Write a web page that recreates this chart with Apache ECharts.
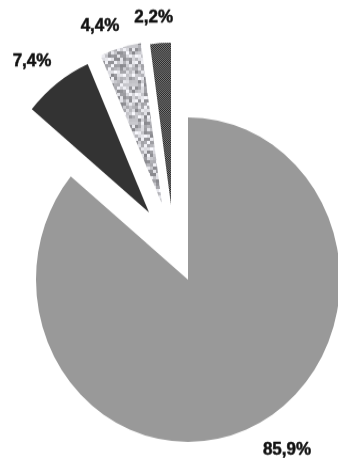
<!DOCTYPE html>
<html>
<head>
<meta charset="utf-8">
<script src="https://cdn.jsdelivr.net/npm/echarts@6/dist/echarts.min.js"></script>
<style>
html,body{margin:0;padding:0;background:#fff;overflow:hidden;}
#wrap{width:338px;height:459px;overflow:hidden;}
#chart{width:338px;height:440px;transform:scaleY(1.0674);transform-origin:0 0;}
</style>
</head>
<body>
<div id="wrap"><div id="chart"></div></div>
<script>
const categories = ['Categoria 1', 'Categoria 2', 'Categoria 3', 'Categoria 4'];
const values = [85.9, 7.4, 4.4, 2.2];

function hash(x, y) {
  const s = Math.sin(x * 12.9898 + y * 78.233) * 43758.5453;
  return s - Math.floor(s);
}
function speckle() {
  const c = document.createElement('canvas');
  c.width = 36; c.height = 36;
  const g = c.getContext('2d');
  for (let y = 0; y < 36; y += 3) {
    for (let x = 0; x < 36; x += 3) {
      const h = hash(x / 3, y / 3);
      const v = Math.round(135 + h * 115);
      g.fillStyle = 'rgb(' + v + ',' + v + ',' + Math.min(255, v + 5) + ')';
      g.fillRect(x, y, 3, 3);
    }
  }
  return c;
}
function hatch() {
  const c = document.createElement('canvas');
  c.width = 4; c.height = 4;
  const g = c.getContext('2d');
  g.fillStyle = '#7a7a7a';
  g.fillRect(0, 0, 4, 4);
  g.fillStyle = '#2a2a2a';
  for (let i = 0; i < 4; i++) { g.fillRect(i, 3 - i, 1, 1); g.fillRect((i + 2) % 4, 3 - i, 1, 1); }
  return c;
}

const colors = [
  '#999999',
  '#333333',
  { image: speckle(), repeat: 'repeat' },
  { image: hatch(), repeat: 'repeat' }
];
// layout: where each (exploded) slice's pie centre sits, and where each label sits
const sliceCenters = [[188, 262], [149, 199], [162, 191], [171, 192]];
const labelPositions = [[287, 421.6], [32, 57], [100, 24.5], [153.7, 16.7]];

const labelStyle = {
  show: true,
  position: 'outside',
  fontFamily: 'Liberation Sans',
  fontWeight: 'bold',
  fontSize: 17,
  color: '#111111',
  textBorderColor: '#111111',
  textBorderWidth: 0.5,
  formatter: p => p.value.toFixed(1).replace('.', ',') + '%'
};

const series = categories.map((_, k) => ({
  type: 'pie',
  center: sliceCenters[k],
  radius: [0, 152],
  startAngle: 90,
  clockwise: true,
  avoidLabelOverlap: false,
  emphasis: { disabled: true },
  label: labelStyle,
  labelLine: { show: false, length: 10, length2: 0 },
  labelLayout: () => ({
    x: labelPositions[k][0],
    y: labelPositions[k][1],
    align: 'center',
    verticalAlign: 'middle'
  }),
  itemStyle: { borderWidth: 0 },
  z: 2 + k,
  data: categories.map((n, i) => ({
    name: n,
    value: values[i],
    itemStyle: { color: i === k ? colors[i] : 'rgba(0,0,0,0)' },
    label: i === k ? {} : { show: false }
  }))
}));

const chart = echarts.init(document.getElementById('chart'), null, { renderer: 'canvas' });
chart.setOption({
  animation: false,
  backgroundColor: '#ffffff',
  tooltip: { show: false },
  series: series
});
</script>
</body>
</html>
